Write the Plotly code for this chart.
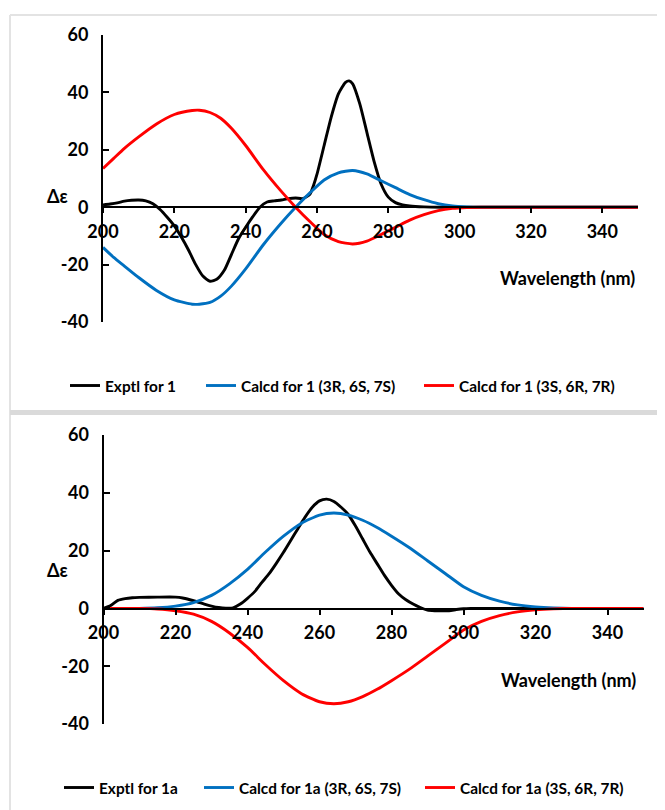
import plotly.graph_objects as go

W, H = 665, 810
OFF_X, OFF_Y = 8, 8  # page body margin of the exported html

# ---------------- data ----------------
# Top panel: compound 1
wl_exp1 = [200, 202, 204, 206, 208, 210, 212, 214, 216, 218, 220, 222, 224, 226, 228, 230,
           232, 234, 236, 238, 240, 242, 244, 246, 248, 250, 252, 254, 256, 258, 259, 260,
           262, 264, 266, 268, 269, 270, 272, 274, 276, 278, 280, 282, 284, 286, 290, 295, 350]
exp1 = [0.8, 1.1, 1.5, 2.1, 2.4, 2.5, 2.2, 1.2, -0.8, -3.5, -6.5, -10.5, -15, -20, -24, -25.8,
        -25, -22, -16.5, -11, -7, -3.3, 0, 1.8, 2.2, 2.5, 3, 3.2, 3, 4.5, 7.5, 11.5,
        21.5, 31.5, 39.5, 43.5, 44, 43, 36, 26, 16, 8, 3.5, 1.6, 0.8, 0.4, 0.1, 0, 0]

wl_calc1 = [200, 203, 206, 210, 215, 220, 225, 227, 230, 233, 236, 240, 245, 250, 254, 258,
            262, 266, 270, 274, 278, 282, 286, 290, 294, 298, 302, 306, 350]
calc1_RSS = [-14, -17.5, -20.5, -24.5, -29, -32.3, -33.8, -33.8, -33.2, -31, -27.5, -21.5, -13,
             -5.5, 0, 5, 9.5, 12, 12.8, 11.6, 9.2, 6.8, 4.4, 2.6, 1.2, 0.4, 0.1, 0, 0]
calc1_SRR = [13.5, 17, 20.5, 24.5, 29, 32.3, 33.7, 33.8, 33, 31, 27.5, 21.5, 13,
             5.5, 0, -5, -9.5, -12, -12.8, -11.8, -9.5, -7, -4.5, -2.6, -1.2, -0.4, -0.1, 0, 0]

# Bottom panel: compound 1a
wl_exp1a = [200, 202, 204, 206, 208, 210, 215, 220, 222, 224, 226, 228, 230, 232, 234, 236,
            238, 240, 242, 244, 246, 248, 250, 252, 254, 256, 258, 260, 262, 264, 266, 268,
            270, 272, 274, 276, 278, 280, 282, 284, 286, 288, 290, 292, 296, 298, 300, 302, 350]
exp1a = [0, 1, 2.8, 3.4, 3.7, 3.8, 3.9, 3.9, 3.6, 3, 2.3, 1.5, 0.8, 0.3, 0.1, 0.2,
         1.5, 3.5, 5.8, 9, 12, 15.6, 19.4, 23.5, 27.6, 31.6, 35, 37.2, 37.8, 37, 35, 32.5,
         28.5, 24, 19.5, 15.5, 11.5, 8, 5, 3, 1.5, 0.3, -0.6, -0.8, -0.8, -0.4, -0.1, 0, 0]

wl_calc1a = [200, 205, 210, 215, 220, 225, 230, 235, 240, 245, 250, 255, 260, 264, 268, 272,
             276, 280, 285, 290, 295, 300, 305, 310, 315, 320, 325, 330, 350]
calc1a_RSS = [0, 0, 0, 0.2, 0.8, 2, 4.5, 8.5, 13.5, 19.5, 25, 29.5, 32.3, 33, 32.3, 30.5,
              28, 25, 21, 16.5, 12, 7.5, 4.5, 2.5, 1.2, 0.5, 0.15, 0, 0]
calc1a_SRR = [0, 0, 0, -0.2, -0.8, -2, -4.5, -8.5, -13.5, -19.5, -25, -29.5, -32.3, -33, -32.3, -30.5,
              -28, -25, -21, -16.5, -12, -7.5, -4.5, -2.5, -1.2, -0.5, -0.15, 0, 0]

x_range = [200, 350]
y_range = [-40, 60]
y_ticks = [-40, -20, 0, 20, 40, 60]
y_ticktext = ["-40", "-20", "0", "20", "40", "60"]
x_ticks = [200, 220, 240, 260, 280, 300, 320, 340]

names_top = ["Exptl for 1", "Calcd for 1 (3R, 6S, 7S)", "Calcd for 1 (3S, 6R, 7R)"]
names_bot = ["Exptl for 1a", "Calcd for 1a (3R, 6S, 7S)", "Calcd for 1a (3S, 6R, 7R)"]
colors = ["#000000", "#0070C0", "#FF0000"]

FONT = "Lato, 'Open Sans', Arial, sans-serif"


def px(x):
    return (x - OFF_X) / W


def py(y):
    return 1 - (y - OFF_Y) / H


fig = go.Figure()

top_series = [(wl_exp1, exp1), (wl_calc1, calc1_RSS), (wl_calc1, calc1_SRR)]
bot_series = [(wl_exp1a, exp1a), (wl_calc1a, calc1a_RSS), (wl_calc1a, calc1a_SRR)]

top_legends = ["legend", "legend2", "legend3"]
bot_legends = ["legend4", "legend5", "legend6"]

for (xs, ys), name, c, lg in zip(top_series, names_top, colors, top_legends):
    fig.add_trace(go.Scatter(x=xs, y=ys, mode="lines", name=name,
                             line=dict(color=c, width=2.9, shape="spline", smoothing=0.6),
                             xaxis="x", yaxis="y", legend=lg))
for (xs, ys), name, c, lg in zip(bot_series, names_bot, colors, bot_legends):
    fig.add_trace(go.Scatter(x=xs, y=ys, mode="lines", name=name,
                             line=dict(color=c, width=2.9, shape="spline", smoothing=0.6),
                             xaxis="x2", yaxis="y2", legend=lg))

tickfont = dict(family=FONT, size=18, color="#000000", weight="bold")

common_x = dict(range=x_range, tickvals=x_ticks, showline=True, linecolor="#000000",
                linewidth=2, ticks="outside", ticklen=5, tickwidth=2, tickcolor="#000000",
                showgrid=False, zeroline=False, tickfont=tickfont, anchor="free",
                automargin=False, ticklabelstandoff=3)
common_y = dict(range=y_range, tickvals=y_ticks, ticktext=y_ticktext, showline=True,
                linecolor="#000000", linewidth=2, ticks="inside", ticklen=6, tickwidth=2,
                tickcolor="#000000", showgrid=False, zeroline=False, tickfont=tickfont,
                automargin=False, ticklabelstandoff=9)

# Top panel geometry (pixels in the reference picture)
t_x0, t_x1 = 103, 638
t_ytop, t_ybot, t_yzero = 35, 322, 207
# Bottom panel geometry
b_x0, b_x1 = 103.5, 643.5
b_ytop, b_ybot, b_yzero = 435, 724, 608.5

leg_font = dict(family=FONT, size=15.4, color="#000000", weight="bold")


def leg(x_line_start, y_center):
    # plotly draws the line sample starting 5px into the entry
    return dict(orientation="h", x=px(x_line_start - 5), y=py(y_center), xanchor="left",
                yanchor="middle", font=leg_font, bgcolor="rgba(0,0,0,0)", itemwidth=30,
                borderwidth=0)


fig.update_layout(
    width=W, height=H,
    margin=dict(l=0, r=0, t=0, b=0, pad=0, autoexpand=False),
    paper_bgcolor="white", plot_bgcolor="rgba(0,0,0,0)",
    font=dict(family=FONT, color="#000000"),
    xaxis=dict(common_x, domain=[px(t_x0), px(t_x1)], position=py(t_yzero)),
    yaxis=dict(common_y, domain=[py(t_ybot), py(t_ytop)], anchor="x"),
    xaxis2=dict(common_x, domain=[px(b_x0), px(b_x1)], position=py(b_yzero)),
    yaxis2=dict(common_y, domain=[py(b_ybot), py(b_ytop)], anchor="x2"),
    legend=leg(70, 386),
    legend2=leg(206, 386),
    legend3=leg(424, 386),
    legend4=leg(64, 788),
    legend5=leg(204, 788),
    legend6=leg(425, 788),
    showlegend=True,
)

ann_font = dict(family=FONT, size=18, color="#000000", weight="bold")
fig.add_annotation(text="Δε", x=px(45), y=py(183), xref="paper", yref="paper",
                   showarrow=False, font=ann_font)
fig.add_annotation(text="Wavelength (nm)", x=px(637), y=py(265), xref="paper", yref="paper",
                   xanchor="right", showarrow=False, font=ann_font)
fig.add_annotation(text="Δε", x=px(45), y=py(583), xref="paper", yref="paper",
                   showarrow=False, font=ann_font)
fig.add_annotation(text="Wavelength (nm)", x=px(638), y=py(693), xref="paper", yref="paper",
                   xanchor="right", showarrow=False, font=ann_font)

# panel frames
frame = "#e3e3e3"
fig.add_shape(type="line", xref="paper", yref="paper", x0=px(10), x1=px(W + 10), y0=py(15), y1=py(15),
              line=dict(color=frame, width=2))
fig.add_shape(type="line", xref="paper", yref="paper", x0=px(10), x1=px(10), y0=py(15), y1=py(H + 10),
              line=dict(color=frame, width=2))
fig.add_shape(type="rect", xref="paper", yref="paper", x0=px(10), x1=px(W + 10), y0=py(415), y1=py(410),
              line=dict(width=0), fillcolor="#dadada")

fig.write_html("out.html")
